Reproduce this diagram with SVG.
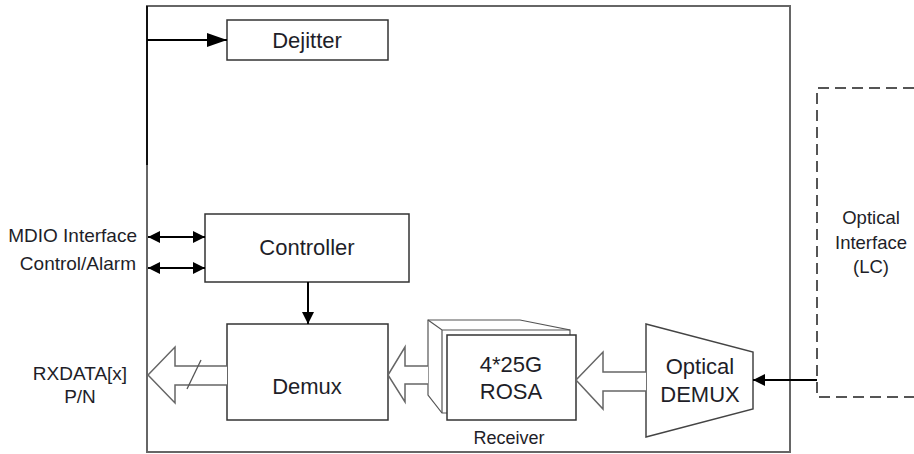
<svg xmlns="http://www.w3.org/2000/svg" width="914" height="454" viewBox="0 0 914 454">
<style>
.box{fill:#fff;stroke:#333;stroke-width:1.5}
.lbl{font-family:"Liberation Sans",Arial,sans-serif;fill:#1e1e28;text-anchor:middle;dominant-baseline:central}
.big{font-size:22px}
.sm{font-size:19px}
.hollow{fill:#fff;stroke:#666;stroke-width:1.5;stroke-linejoin:miter}
.ln{stroke:#000;stroke-width:2;fill:none}
</style>
<defs>
<marker id="ah" viewBox="0 0 20 14" refX="20" refY="7" markerWidth="20" markerHeight="14" markerUnits="userSpaceOnUse" orient="auto">
<path d="M0,0 L20,7 L0,14 Z" fill="#000"/>
</marker>
<marker id="ahs" viewBox="0 0 12 12" refX="12" refY="6" markerWidth="12" markerHeight="12" markerUnits="userSpaceOnUse" orient="auto-start-reverse">
<path d="M0,0 L12,6 L0,12 Z" fill="#000"/>
</marker>
</defs>
<rect width="914" height="454" fill="#fff"/>
<g id="module">
<rect x="147" y="6" width="643" height="446" fill="none" stroke="#666" stroke-width="2"/>
<line x1="147" y1="6" x2="147" y2="165" stroke="#111" stroke-width="2"/>
<text class="lbl" x="509" y="438" font-size="18">Receiver</text>
</g>
<g id="optical-interface">
<path d="M914,88 H817 V397 H914" fill="none" stroke="#555" stroke-width="2" stroke-dasharray="11,6"/>
<text class="lbl" x="871" y="217" font-size="18.5">Optical</text>
<text class="lbl" x="871" y="242" font-size="18.5">Interface</text>
<text class="lbl" x="871" y="266" font-size="18.5">(LC)</text>
</g>
<g id="dejitter">
<rect class="box" x="227" y="20" width="161" height="40"/>
<text class="lbl big" x="307" y="40">Dejitter</text>
</g>
<g id="controller">
<rect class="box" x="205" y="214" width="204" height="68"/>
<text class="lbl big" x="307" y="247">Controller</text>
</g>
<g id="demux">
<rect class="box" x="227" y="324" width="161" height="96"/>
<text class="lbl big" x="307" y="386">Demux</text>
</g>
<g id="rosa">
<path d="M428,320 H520 L570,330 V413 H442 L428,395 Z" fill="#fff" stroke="#555" stroke-width="1.2"/>
<path d="M428,320 L442,330 H570 M442,330 V413" fill="none" stroke="#555" stroke-width="1.2"/>
<rect class="box" x="447" y="335" width="129" height="85"/>
<text class="lbl big" x="511" y="364">4*25G</text>
<text class="lbl big" x="511" y="391">ROSA</text>
</g>
<g id="optical-demux">
<path d="M646,324 L753,352 V409 L646,437 Z" fill="#fff" stroke="#444" stroke-width="1.5"/>
<text class="lbl big" x="700" y="366">Optical</text>
<text class="lbl big" x="700" y="394">DEMUX</text>
</g>
<g id="io-labels">
<text class="lbl sm" x="137" y="235" text-anchor="end" style="text-anchor:end">MDIO Interface</text>
<text class="lbl sm" x="136" y="263" style="text-anchor:end">Control/Alarm</text>
<text class="lbl sm" x="80" y="373">RXDATA[x]</text>
<text class="lbl sm" x="80" y="396">P/N</text>
</g>
<g id="connectors">
<line class="ln" x1="147" y1="40" x2="227" y2="40" marker-end="url(#ah)"/>
<line class="ln" x1="148" y1="237" x2="205" y2="237" marker-start="url(#ahs)" marker-end="url(#ahs)"/>
<line class="ln" x1="148" y1="268" x2="205" y2="268" marker-start="url(#ahs)" marker-end="url(#ahs)"/>
<line class="ln" x1="308" y1="282" x2="308" y2="324" stroke-width="1.5" marker-end="url(#ahs)"/>
<line class="ln" x1="817" y1="380" x2="753" y2="380" marker-end="url(#ahs)"/>
<path class="hollow" d="M646,372 H603 V352 L576,380 L603,409 V391 H646"/>
<path class="hollow" d="M428,366 H405 V347 L388,375 L405,402 V384 H428"/>
<path class="hollow" d="M227,366 H175 V347 L148,375 L175,403 V385 H227"/>
<line x1="187" y1="389" x2="201" y2="360" stroke="#555" stroke-width="1.3"/>
</g>
</svg>
